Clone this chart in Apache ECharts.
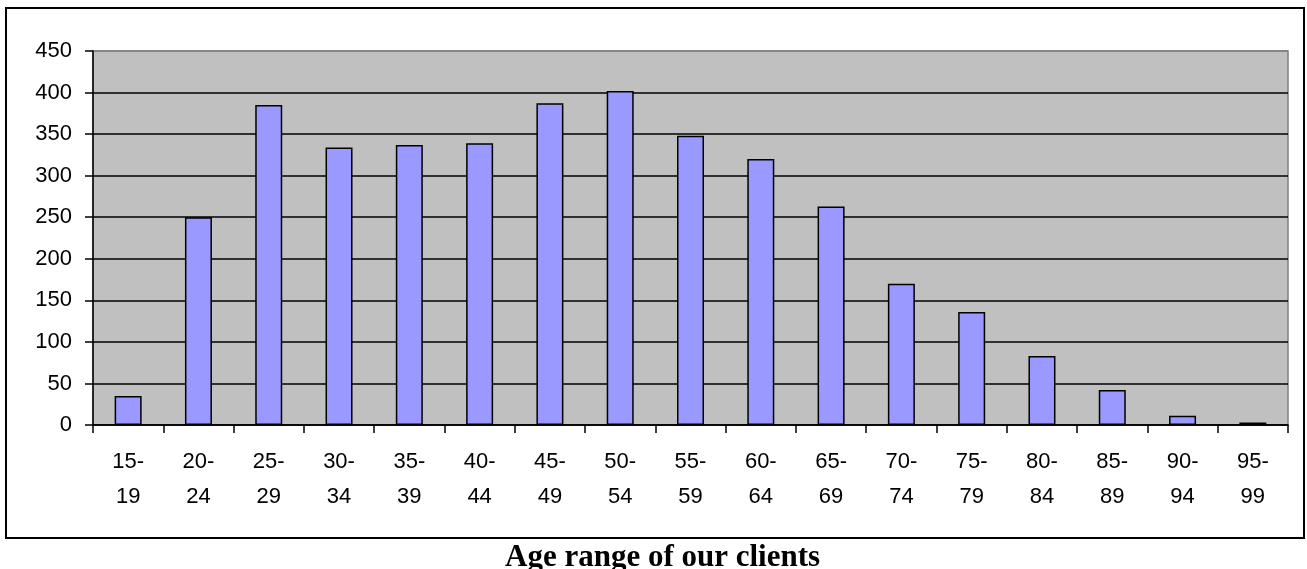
<!DOCTYPE html>
<html>
<head>
<meta charset="utf-8">
<script src="https://cdn.jsdelivr.net/npm/echarts@6/dist/echarts.min.js"></script>
<style>
html,body{margin:0;padding:0;background:#fff;}
#chart{width:1307px;height:569px;}
</style>
</head>
<body>
<div id="chart"></div>
<script>
const categories = ['15-\n19','20-\n24','25-\n29','30-\n34','35-\n39','40-\n44','45-\n49','50-\n54','55-\n59','60-\n64','65-\n69','70-\n74','75-\n79','80-\n84','85-\n89','90-\n94','95-\n99'];
const clients = [35, 250, 385, 334, 337, 339, 387, 402, 348, 320, 263, 170, 136, 83, 42, 11, 3];
const yTicks = {min: 0, max: 450, interval: 50};
const titleText = 'Age range of our clients';

const chart = echarts.init(document.getElementById('chart'), null, {renderer: 'canvas'});
chart.setOption({
  animation: false,
  backgroundColor: '#ffffff',
  title: {
    text: titleText,
    left: 505,
    top: 542,
    padding: 0,
    textStyle: {fontFamily: 'Liberation Serif', fontWeight: 'bold', fontSize: 31, color: '#000'}
  },
  graphic: [{
    type: 'rect',
    shape: {x: 6, y: 8, width: 1298, height: 530},
    style: {fill: 'none', stroke: '#000', lineWidth: 2},
    z: -1
  }],
  grid: {
    left: 93, right: 19, top: 51, bottom: 144,
    show: true, backgroundColor: '#C0C0C0', borderColor: '#808080', borderWidth: 1.5
  },
  xAxis: {
    type: 'category',
    data: categories,
    boundaryGap: true,
    axisLine: {lineStyle: {color: '#000', width: 1.5}},
    axisTick: {show: true, length: 8, alignWithLabel: false, interval: 0, lineStyle: {color: '#000', width: 1.5}},
    axisLabel: {interval: 0, margin: 19, fontFamily: 'Liberation Sans', fontSize: 22, lineHeight: 35, color: '#000'}
  },
  yAxis: {
    type: 'value',
    min: yTicks.min, max: yTicks.max, interval: yTicks.interval,
    axisLine: {show: true, lineStyle: {color: '#000', width: 1.5}},
    axisTick: {show: true, length: 8, lineStyle: {color: '#000', width: 1.5}},
    axisLabel: {margin: 21, fontFamily: 'Liberation Sans', fontSize: 22, color: '#000'},
    splitLine: {show: true, lineStyle: {color: ['#000','#000','#000','#000','#000','#000','#000','#000','#000','#808080'], width: 1.5}}
  },
  series: [{
    type: 'bar',
    data: clients,
    barWidth: 27,
    itemStyle: {color: '#9999FF', borderColor: '#000', borderWidth: 1.5}
  }]
});
</script>
</body>
</html>
